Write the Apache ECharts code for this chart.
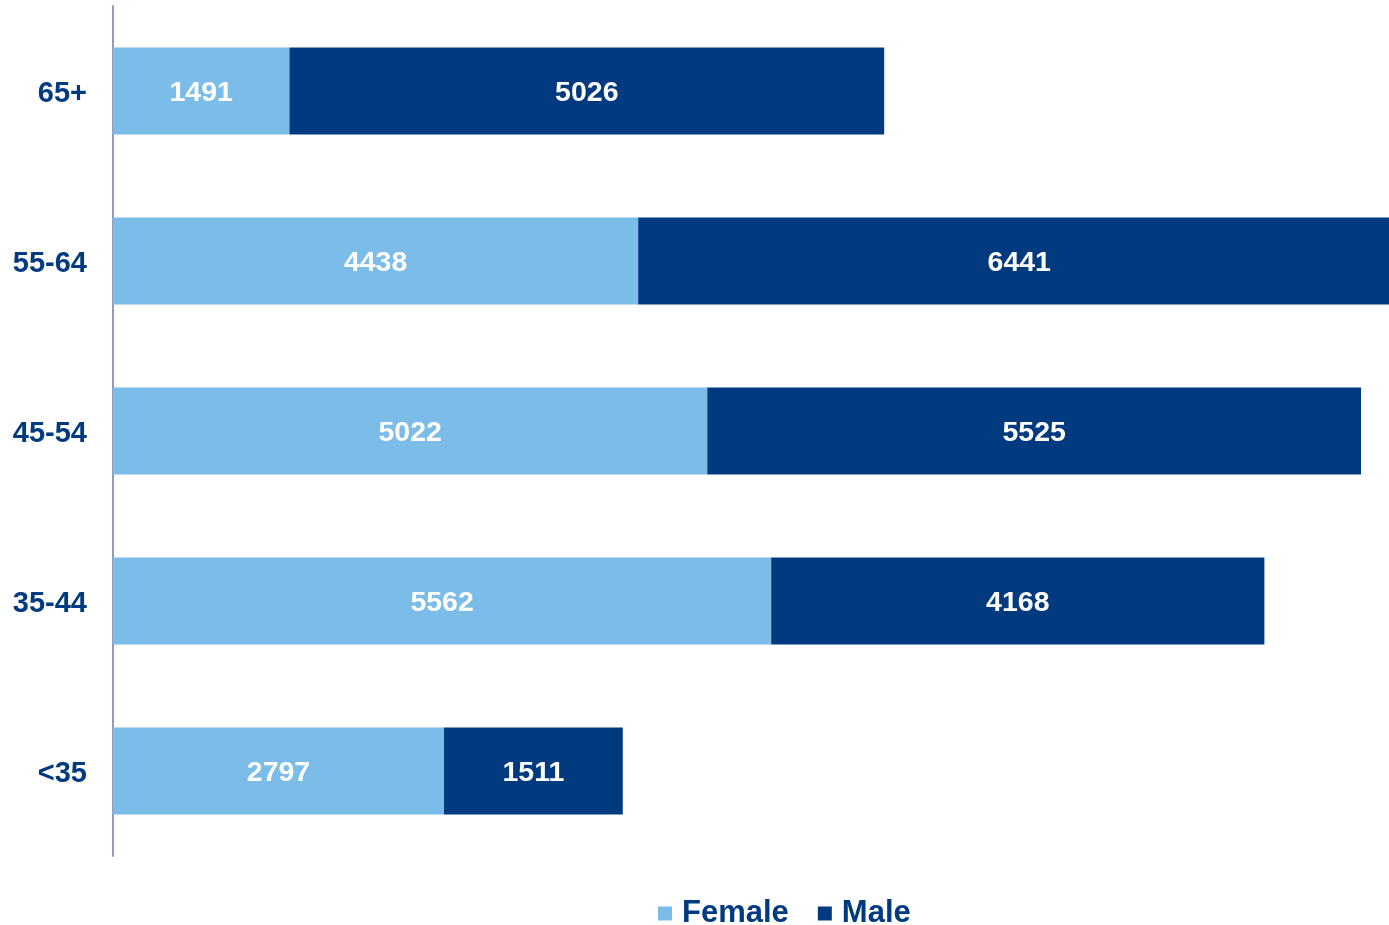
<!DOCTYPE html>
<html>
<head>
<meta charset="utf-8">
<script src="https://cdn.jsdelivr.net/npm/echarts@6/dist/echarts.min.js"></script>
<style>
html,body{margin:0;padding:0;background:#fff;}
#chart{width:1389px;height:925px;}
</style>
</head>
<body>
<div id="chart"></div>
<script>
var categories = ['<35', '35-44', '45-54', '55-64', '65+'];
var female = [2797, 5562, 5022, 4438, 1491];
var male = [1511, 4168, 5525, 6441, 5026];
var seriesNames = ['Female', 'Male'];

var chart = echarts.init(document.getElementById('chart'), null, {renderer: 'canvas'});
var font = 'Liberation Sans, Arial, sans-serif';
var labelStyle = {
  show: true,
  position: 'inside',
  offset: [0, 2],
  color: '#ffffff',
  fontFamily: font,
  fontWeight: 'bold',
  fontSize: 28.5
};
chart.setOption({
  animation: false,
  backgroundColor: '#ffffff',
  grid: {left: 113, top: 6, height: 850, width: 1420, containLabel: false, outerBoundsMode: 'none'},
  legend: {
    data: seriesNames,
    left: 653,
    top: 893,
    icon: 'rect',
    itemWidth: 14,
    itemHeight: 14,
    itemGap: 29,
    textStyle: {
      color: '#003A80',
      fontFamily: font,
      fontWeight: 'bold',
      fontSize: 31,
      padding: [0, 0, 0, 5]
    }
  },
  xAxis: {
    type: 'value',
    min: 0,
    max: 12000,
    show: false,
    splitLine: {show: false}
  },
  yAxis: {
    type: 'category',
    data: categories,
    axisTick: {show: false},
    axisLine: {show: true, lineStyle: {color: '#8E9BBF', width: 2}},
    axisLabel: {
      margin: 26,
      formatter: '{a|{value}}',
      rich: {
        a: {
          color: '#003A80',
          fontFamily: font,
          fontWeight: 'bold',
          fontSize: 29,
          padding: [5, 0, 0, 0]
        }
      }
    }
  },
  series: [
    {
      name: seriesNames[0],
      type: 'bar',
      stack: 'total',
      barWidth: 87,
      data: female,
      itemStyle: {color: '#7BBDE8'},
      label: labelStyle
    },
    {
      name: seriesNames[1],
      type: 'bar',
      stack: 'total',
      barWidth: 87,
      data: male,
      itemStyle: {color: '#023A80'},
      label: labelStyle
    }
  ]
});
</script>
</body>
</html>
